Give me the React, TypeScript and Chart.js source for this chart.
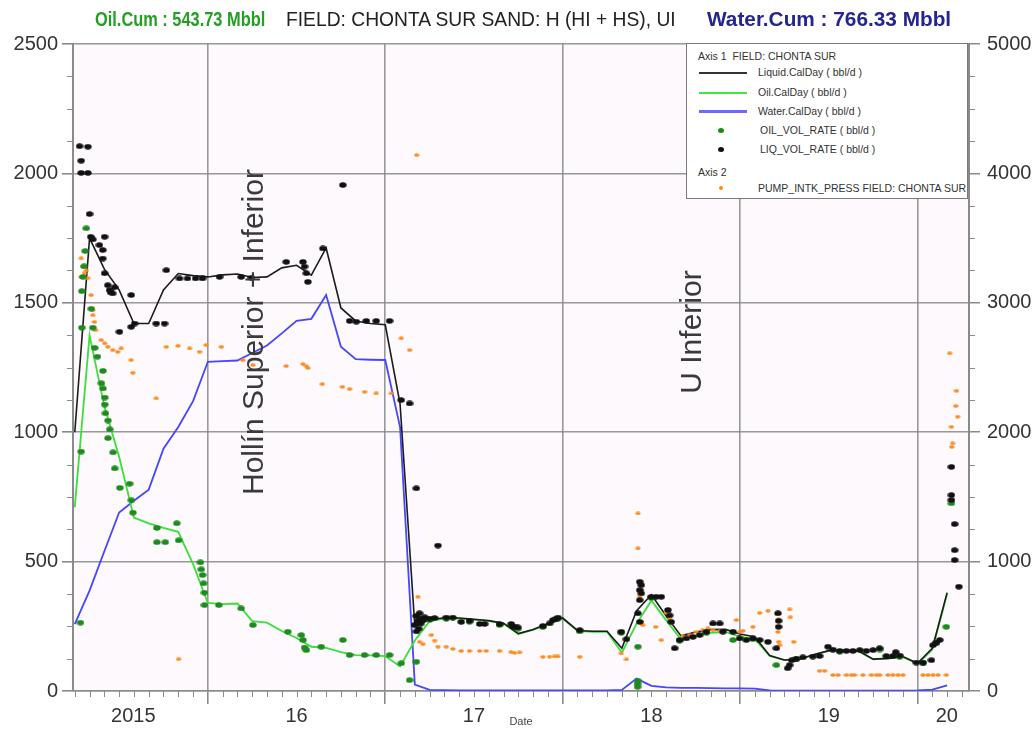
import React, { useEffect, useRef } from 'react';
import { Chart, registerables } from 'chart.js';

Chart.register(...registerables);

const SANS = '"Liberation Sans", Arial, Helvetica, sans-serif';

// ---------- Monthly calendar-day series (end of month) ----------
const calMonths = [
  '2015-03', '2015-04', '2015-05', '2015-06', '2015-07', '2015-08', '2015-09', '2015-10', '2015-11', '2015-12',
  '2016-01', '2016-02', '2016-03', '2016-04', '2016-05', '2016-06', '2016-07', '2016-08', '2016-09', '2016-10',
  '2016-11', '2016-12', '2017-01', '2017-02', '2017-03', '2017-04', '2017-05', '2017-06', '2017-07', '2017-08',
  '2017-09', '2017-10', '2017-11', '2017-12', '2018-01', '2018-02', '2018-03', '2018-04', '2018-05', '2018-06',
  '2018-07', '2018-08', '2018-09', '2018-10', '2018-11', '2018-12', '2019-01', '2019-02', '2019-03', '2019-04',
  '2019-05', '2019-06', '2019-07', '2019-08', '2019-09', '2019-10', '2019-11', '2019-12', '2020-01', '2020-02',
];

const liquidCalDay = [
  1000, 1750, 1630, 1550, 1420, 1420, 1550, 1613, 1605, 1600,
  1608, 1611, 1598, 1600, 1635, 1645, 1607, 1712, 1480, 1430,
  1420, 1415, 1110, 250, 275, 283, 282, 277, 272, 262,
  222, 238, 261, 282, 234, 231, 231, 165, 310, 372,
  290, 213, 228, 237, 238, 220, 209, 137, 120, 123,
  141, 156, 156, 155, 123, 126, 133, 107, 165, 380,
];

const oilCalDay = [
  710, 1375, 1100, 905, 670, 648, 630, 615, 490, 340,
  336, 338, 270, 264, 232, 205, 171, 167, 150, 139,
  138, 135, 95, 195, 270, 280, 280, 275, 270, 260,
  220, 236, 259, 280, 232, 229, 229, 148, 260, 350,
  273, 200, 215, 225, 228, 210, 200, 135, 119, 122,
  140, 155, 155, 154, 122, 125, 132, 105, 160, 375,
];

const waterCalDay = [
  258, 388, 540, 690, 735, 778, 936, 1020, 1120, 1272,
  1275, 1277, 1306, 1335, 1382, 1430, 1438, 1530, 1330, 1282,
  1280, 1279, 1020, 25, 4, 3, 2, 2, 2, 2,
  2, 2, 2, 2, 2, 2, 2, 4, 48, 20,
  14, 12, 12, 11, 10, 10, 9, 2, 1, 1,
  1, 1, 1, 1, 1, 1, 1, 2, 5, 22,
];

// ---------- Test readings: [decimal year, value] ----------
const liqVolRate: [number, number][] = [
  [2015.277, 2105], [2015.324, 2103], [2015.286, 2049], [2015.286, 2002], [2015.324, 2002], [2015.333, 1843],
  [2015.340, 1755], [2015.352, 1745], [2015.418, 1755], [2015.389, 1723], [2015.408, 1704], [2015.408, 1671],
  [2015.418, 1614], [2015.436, 1568], [2015.446, 1549], [2015.463, 1536], [2015.474, 1560], [2015.452, 1540],
  [2015.568, 1530], [2015.502, 1388], [2015.568, 1407], [2015.587, 1420], [2015.709, 1420], [2015.756, 1420],
  [2015.766, 1626], [2015.840, 1594], [2015.885, 1594], [2015.931, 1594], [2015.970, 1594], [2016.066, 1600],
  [2016.188, 1600], [2016.245, 1597], [2016.442, 1658], [2016.536, 1658], [2016.545, 1640], [2016.555, 1614],
  [2016.564, 1581], [2016.648, 1710], [2016.761, 1955], [2016.799, 1430], [2016.837, 1427], [2016.893, 1430],
  [2016.949, 1430], [2017.024, 1430], [2017.090, 1124], [2017.137, 1111], [2017.175, 783], [2017.297, 562],
  [2017.165, 255], [2017.175, 290], [2017.182, 270], [2017.188, 240], [2017.193, 300], [2017.199, 260],
  [2017.205, 280], [2017.212, 275], [2017.176, 230], [2017.222, 285], [2017.250, 280], [2017.278, 282],
  [2017.344, 284], [2017.381, 284], [2017.428, 267], [2017.475, 271], [2017.532, 259], [2017.560, 259],
  [2017.644, 259], [2017.710, 259], [2017.718, 250], [2017.729, 248], [2017.747, 246], [2017.888, 251],
  [2017.926, 261], [2017.945, 274], [2017.964, 280], [2017.973, 284], [2018.096, 235], [2018.330, 229],
  [2018.359, 200], [2018.434, 422], [2018.443, 409], [2018.434, 390], [2018.443, 377], [2018.434, 351],
  [2018.424, 300], [2018.434, 267], [2018.499, 364], [2018.527, 364], [2018.556, 364], [2018.593, 313],
  [2018.603, 292], [2018.612, 267], [2018.631, 165], [2018.659, 197], [2018.697, 203], [2018.734, 209],
  [2018.772, 216], [2018.810, 229], [2018.847, 261], [2018.885, 261], [2018.903, 229], [2018.960, 229],
  [2018.997, 203], [2019.035, 197], [2019.072, 203], [2019.110, 197], [2019.157, 190], [2019.213, 300],
  [2019.217, 271], [2019.217, 248], [2019.204, 165], [2019.268, 88], [2019.279, 100], [2019.291, 119],
  [2019.317, 125], [2019.354, 130], [2019.410, 133], [2019.448, 135], [2019.495, 171], [2019.523, 160],
  [2019.561, 155], [2019.599, 155], [2019.636, 155], [2019.674, 158], [2019.711, 155], [2019.749, 158],
  [2019.786, 165], [2019.824, 135], [2019.861, 135], [2019.899, 137], [2019.877, 150], [2019.993, 110],
  [2020.031, 110], [2020.078, 119], [2020.087, 177], [2020.106, 187], [2020.125, 197], [2020.191, 866],
  [2020.191, 757], [2020.191, 738], [2020.209, 645], [2020.209, 544], [2020.209, 506], [2020.233, 403],
];

const oilVolRate: [number, number][] = [
  [2015.315, 1788], [2015.309, 1700], [2015.302, 1641], [2015.296, 1600], [2015.290, 1545], [2015.290, 1404],
  [2015.343, 1477], [2015.352, 1404], [2015.362, 1326], [2015.378, 1292], [2015.409, 1237], [2015.400, 1189],
  [2015.409, 1169], [2015.419, 1134], [2015.419, 1107], [2015.423, 1073], [2015.437, 1045], [2015.447, 1011],
  [2015.437, 977], [2015.466, 922], [2015.475, 860], [2015.504, 785], [2015.559, 801], [2015.569, 737],
  [2015.578, 689], [2015.286, 925], [2015.282, 264], [2015.713, 630], [2015.825, 648], [2015.713, 575],
  [2015.760, 575], [2015.835, 582], [2015.958, 497], [2015.963, 470], [2015.970, 448], [2015.976, 416],
  [2015.981, 380], [2015.981, 332], [2016.062, 332], [2016.188, 319], [2016.254, 255], [2016.451, 229],
  [2016.527, 216], [2016.536, 197], [2016.545, 168], [2016.555, 158], [2016.639, 171], [2016.761, 197],
  [2016.799, 139], [2016.883, 139], [2016.949, 139], [2017.024, 139], [2017.090, 107], [2017.175, 113],
  [2017.137, 42], [2017.193, 280], [2017.250, 275], [2017.344, 280], [2017.475, 268], [2017.644, 255],
  [2017.747, 240], [2017.888, 247], [2017.973, 280], [2018.096, 230], [2018.330, 225], [2018.424, 171],
  [2018.422, 40], [2018.422, 28], [2018.422, 16], [2018.499, 360], [2018.659, 195], [2018.810, 225],
  [2018.960, 197], [2019.072, 200], [2019.204, 100], [2019.317, 122], [2019.561, 152], [2019.786, 160],
  [2019.899, 133], [2020.031, 107], [2020.106, 185], [2020.162, 248], [2020.191, 725],
];

// Pump intake pressure (Axis 2)
const pumpIntkPress: [number, number][] = [
  [2015.286, 3343], [2015.296, 3278], [2015.305, 3227], [2015.286, 3200], [2015.315, 3250], [2015.322, 3190],
  [2015.342, 3059], [2015.352, 2943], [2015.352, 2904], [2015.361, 2852], [2015.367, 2788], [2015.399, 2712],
  [2015.418, 2686], [2015.436, 2660], [2015.464, 2634], [2015.492, 2621], [2015.511, 2647], [2015.568, 2557],
  [2015.577, 2459], [2015.709, 2261], [2015.766, 2660], [2015.832, 2668], [2015.897, 2647], [2015.953, 2621],
  [2015.991, 2673], [2016.076, 2660], [2015.835, 245], [2016.197, 2557], [2016.254, 2518], [2016.442, 2511],
  [2016.536, 2526], [2016.555, 2510], [2016.564, 2496], [2016.645, 2372], [2016.758, 2351], [2016.799, 2333],
  [2016.883, 2312], [2016.949, 2300], [2017.034, 2300], [2017.090, 2725], [2017.137, 2634], [2017.177, 4141],
  [2017.184, 728], [2017.184, 600], [2017.193, 380], [2017.212, 362], [2017.260, 432], [2017.278, 390],
  [2017.297, 342], [2017.344, 342], [2017.381, 325], [2017.428, 310], [2017.475, 310], [2017.532, 310],
  [2017.569, 310], [2017.644, 310], [2017.710, 300], [2017.729, 295], [2017.757, 298], [2017.888, 264],
  [2017.926, 266], [2017.954, 267], [2017.973, 267], [2018.096, 264], [2018.330, 290], [2018.359, 244],
  [2018.424, 1372], [2018.424, 1102], [2018.434, 834], [2018.443, 780], [2018.434, 728], [2018.443, 535],
  [2018.451, 509], [2018.524, 496], [2018.556, 393], [2018.584, 602], [2018.603, 560], [2018.612, 525],
  [2018.678, 424], [2018.715, 432], [2018.753, 457], [2018.790, 470], [2018.818, 484], [2018.847, 470],
  [2018.885, 460], [2018.979, 548], [2018.997, 457], [2019.016, 465], [2019.072, 496], [2019.110, 604],
  [2019.157, 620], [2019.217, 600], [2019.217, 554], [2019.213, 457], [2019.217, 380], [2019.223, 354],
  [2019.279, 630], [2019.283, 569], [2019.302, 380], [2019.448, 156], [2019.476, 156], [2019.523, 123],
  [2019.552, 123], [2019.599, 123], [2019.627, 123], [2019.645, 123], [2019.692, 123], [2019.740, 123],
  [2019.768, 123], [2019.786, 123], [2019.833, 123], [2019.861, 123], [2019.890, 123], [2019.918, 123],
  [2020.031, 123], [2020.059, 123], [2020.087, 123], [2020.115, 123], [2020.162, 123], [2020.181, 2609],
  [2020.219, 2320], [2020.215, 2202], [2020.226, 2120], [2020.191, 2042], [2020.198, 1913], [2020.193, 1887],
];

// ---------- Axes ----------
const xMin = 2015.24;
const xMax = 2020.29;
const xGridYears = [2016, 2017, 2018, 2019, 2020];
const xLabelPositions = [2015.58, 2016.5, 2017.5, 2018.5, 2019.5, 2020.165];
const xLabels = ['2015', '16', '17', '18', '19', '20'];
const yLeftMax = 2500;
const yLeftStep = 500;
const yRightMax = 5000;
const yRightStep = 1000;

const annotations = [
  { text: 'Hollín Superior + Inferior', x: 2016.263, y: 1387 },
  { text: 'U Inferior', x: 2018.732, y: 1387 },
];

const GRID = 'rgba(135,135,135,0.85)';
const AXIS = '#8a8a8a';

function monthToYear(m: string): number {
  const [y, mo] = m.split('-').map(Number);
  return y + mo / 12;
}

function dotImage(color: string, w: number, h: number): HTMLCanvasElement {
  const c = document.createElement('canvas');
  c.width = w;
  c.height = h;
  const g = c.getContext('2d')!;
  g.fillStyle = color;
  g.beginPath();
  g.ellipse(w / 2, h / 2, w / 2 - 0.3, h / 2 - 0.3, 0, 0, Math.PI * 2);
  g.fill();
  return c;
}

const plotBg = {
  id: 'plotBg',
  beforeDraw(chart: any) {
    const { ctx, chartArea: a } = chart;
    ctx.save();
    ctx.fillStyle = '#fdf9fd';
    ctx.fillRect(a.left, a.top, a.right - a.left, a.bottom - a.top);
    ctx.restore();
  },
};

const minorTicks = {
  id: 'minorTicks',
  afterDraw(chart: any) {
    const { ctx, chartArea: a, scales } = chart;
    ctx.save();
    ctx.strokeStyle = AXIS;
    ctx.lineWidth = 1;
    const seg = (x1: number, y1: number, x2: number, y2: number) => {
      ctx.beginPath();
      ctx.moveTo(x1, y1);
      ctx.lineTo(x2, y2);
      ctx.stroke();
    };
    for (let v = 0; v <= yLeftMax; v += yLeftStep / 4) {
      if (v % yLeftStep === 0) continue;
      const p = Math.round(scales.y.getPixelForValue(v)) + 0.5;
      seg(a.left - 6, p, a.left, p);
    }
    for (let v = 0; v <= yRightMax; v += yRightStep / 4) {
      if (v % yRightStep === 0) continue;
      const p = Math.round(scales.y1.getPixelForValue(v)) + 0.5;
      seg(a.right, p, a.right + 6, p);
    }
    for (let yr = 2015; yr <= 2020; yr++) {
      for (let m = 1; m < 12; m++) {
        const v = yr + m / 12;
        if (v < xMin || v > xMax) continue;
        const p = Math.round(scales.x.getPixelForValue(v)) + 0.5;
        seg(p, a.bottom, p, a.bottom + 6);
      }
    }
    ctx.restore();
  },
};

const textAnnotations = {
  id: 'textAnnotations',
  afterDatasetsDraw(chart: any) {
    const { ctx, scales } = chart;
    ctx.save();
    ctx.fillStyle = '#3a3a3a';
    ctx.font = `30px ${SANS}`;
    ctx.textAlign = 'center';
    ctx.textBaseline = 'middle';
    for (const an of annotations) {
      const px = scales.x.getPixelForValue(an.x);
      const py = scales.y.getPixelForValue(an.y);
      ctx.save();
      ctx.translate(px, py);
      ctx.rotate(-Math.PI / 2);
      ctx.fillText(an.text, 0, 0);
      ctx.restore();
    }
    ctx.restore();
  },
};

const isGridYear = (v: number) => Math.abs(v - Math.round(v)) < 1e-6;

export default function App() {
  const ref = useRef<HTMLCanvasElement | null>(null);

  useEffect(() => {
    if (!ref.current) return;
    const calX = calMonths.map(monthToYear);
    const line = (vals: number[]) => vals.map((y, i) => ({ x: calX[i], y }));
    const pts = (arr: [number, number][]) => arr.map(([x, y]) => ({ x, y }));

    const chart = new Chart(ref.current, {
      type: 'scatter',
      data: {
        datasets: [
          {
            label: 'LIQ_VOL_RATE ( bbl/d )',
            data: pts(liqVolRate),
            yAxisID: 'y',
            pointStyle: dotImage('#111111', 8, 6) as any,
            pointRadius: 3,
            order: 1,
          },
          {
            label: 'OIL_VOL_RATE ( bbl/d )',
            data: pts(oilVolRate),
            yAxisID: 'y',
            pointStyle: dotImage('#1d8a1d', 8, 6) as any,
            pointRadius: 3,
            order: 2,
          },
          {
            label: 'PUMP_INTK_PRESS FIELD: CHONTA SUR',
            data: pts(pumpIntkPress),
            yAxisID: 'y1',
            pointStyle: dotImage('#ff8a1e', 6, 4) as any,
            pointRadius: 2,
            order: 3,
          },
          {
            label: 'Liquid.CalDay ( bbl/d )',
            data: line(liquidCalDay),
            yAxisID: 'y',
            showLine: true,
            borderColor: '#1c1c1c',
            borderWidth: 1.6,
            pointRadius: 0,
            order: 4,
          },
          {
            label: 'Oil.CalDay ( bbl/d )',
            data: line(oilCalDay),
            yAxisID: 'y',
            showLine: true,
            borderColor: '#38e038',
            borderWidth: 1.8,
            pointRadius: 0,
            order: 5,
          },
          {
            label: 'Water.CalDay ( bbl/d )',
            data: line(waterCalDay),
            yAxisID: 'y',
            showLine: true,
            borderColor: '#4646ff',
            borderWidth: 1.8,
            pointRadius: 0,
            order: 6,
          },
        ] as any,
      },
      options: {
        animation: false,
        responsive: false,
        maintainAspectRatio: false,
        events: [],
        layout: { padding: { top: 44, left: 0, right: 0, bottom: 0 } },
        plugins: {
          legend: { display: false },
          title: { display: false },
          tooltip: { enabled: false },
        },
        scales: {
          x: {
            type: 'linear',
            min: xMin,
            max: xMax,
            afterBuildTicks: (s: any) => {
              s.ticks = [...xGridYears, ...xLabelPositions]
                .sort((a, b) => a - b)
                .map((value) => ({ value }));
            },
            afterFit: (s: any) => {
              s.height = 42;
            },
            ticks: {
              autoSkip: false,
              maxRotation: 0,
              padding: 0,
              color: '#333',
              font: { family: SANS, size: 20 },
              callback: (v: any) => {
                const i = xLabelPositions.findIndex((p) => Math.abs(p - Number(v)) < 1e-6);
                return i >= 0 ? xLabels[i] : '';
              },
            },
            grid: {
              color: (c: any) => (c.tick && isGridYear(c.tick.value) ? GRID : 'rgba(0,0,0,0)'),
              tickColor: (c: any) => (c.tick && isGridYear(c.tick.value) ? AXIS : 'rgba(0,0,0,0)'),
              lineWidth: 1.6,
              tickLength: 13,
            },
            border: { display: true, color: AXIS, width: 1.5 },
            title: {
              display: true,
              text: 'Date',
              color: '#444',
              font: { family: SANS, size: 11 },
              padding: { top: 0, bottom: 4 },
            },
          },
          y: {
            type: 'linear',
            position: 'left',
            min: 0,
            max: yLeftMax,
            afterFit: (s: any) => {
              s.width = 73;
            },
            ticks: {
              stepSize: yLeftStep,
              padding: 4,
              color: '#333',
              font: { family: SANS, size: 20 },
              callback: (v: any) => String(v),
            },
            grid: { color: GRID, lineWidth: 1.6, tickLength: 11, tickColor: AXIS },
            border: { display: true, color: AXIS, width: 2 },
          },
          y1: {
            type: 'linear',
            position: 'right',
            min: 0,
            max: yRightMax,
            afterFit: (s: any) => {
              s.width = 67;
            },
            ticks: {
              stepSize: yRightStep,
              padding: 7,
              color: '#333',
              font: { family: SANS, size: 20 },
              callback: (v: any) => String(v),
            },
            grid: { drawOnChartArea: false, tickLength: 11, tickColor: AXIS, lineWidth: 1.5 },
            border: { display: true, color: AXIS, width: 2 },
          },
        },
      } as any,
      plugins: [plotBg, minorTicks, textAnnotations],
    });
    return () => chart.destroy();
  }, []);

  const legendText: React.CSSProperties = {
    position: 'absolute',
    whiteSpace: 'nowrap',
    fontFamily: SANS,
    fontSize: 10.5,
    lineHeight: '12px',
    color: '#333',
  };
  const swatch = (top: number, color: string, h: number): React.CSSProperties => ({
    position: 'absolute',
    left: 12,
    top: top - h / 2,
    width: 48,
    height: h,
    background: color,
  });
  const dot = (top: number, color: string, w: number, h: number): React.CSSProperties => ({
    position: 'absolute',
    left: 34 - w / 2,
    top: top - h / 2,
    width: w,
    height: h,
    borderRadius: '50%',
    background: color,
  });
  const titleBase: React.CSSProperties = {
    position: 'absolute',
    top: 7,
    fontFamily: SANS,
    fontSize: 21,
    lineHeight: '24px',
    whiteSpace: 'nowrap',
    transformOrigin: 'left center',
  };

  return (
    <div style={{ position: 'absolute', left: 0, top: 0, width: 1036, height: 733, background: '#ffffff', overflow: 'hidden' }}>
      <canvas ref={ref} width={1036} height={733} style={{ position: 'absolute', left: 0, top: 0 }} />
      <div style={{ ...titleBase, left: 95, fontWeight: 'bold', color: '#23a023', transform: 'scaleX(0.78)' }}>
        Oil.Cum : 543.73 Mbbl
      </div>
      <div style={{ ...titleBase, left: 286, color: '#222', transform: 'scaleX(0.917)' }}>
        FIELD: CHONTA SUR SAND: H (HI + HS), UI
      </div>
      <div style={{ ...titleBase, left: 707, fontWeight: 'bold', color: '#25258f', transform: 'scaleX(0.99)' }}>
        Water.Cum : 766.33 Mbbl
      </div>

      <div style={{ position: 'absolute', left: 686, top: 43, width: 282, height: 156, background: '#ffffff', border: '1px solid #7a7a7a', boxSizing: 'border-box' }}>
        <div style={{ ...legendText, left: 11, top: 6 }}>Axis 1&nbsp; FIELD: CHONTA SUR</div>
        <div style={swatch(28.5, '#333333', 2)} />
        <div style={{ ...legendText, left: 71, top: 22 }}>Liquid.CalDay ( bbl/d )</div>
        <div style={swatch(48.5, '#3ee83e', 2)} />
        <div style={{ ...legendText, left: 71, top: 42 }}>Oil.CalDay ( bbl/d )</div>
        <div style={swatch(67.5, '#6a6aff', 3)} />
        <div style={{ ...legendText, left: 71, top: 61 }}>Water.CalDay ( bbl/d )</div>
        <div style={dot(86, '#1d8a1d', 6, 5)} />
        <div style={{ ...legendText, left: 73, top: 80 }}>OIL_VOL_RATE ( bbl/d )</div>
        <div style={dot(105, '#111111', 6, 5)} />
        <div style={{ ...legendText, left: 73, top: 99 }}>LIQ_VOL_RATE ( bbl/d )</div>
        <div style={{ ...legendText, left: 11, top: 122 }}>Axis 2</div>
        <div style={dot(144, '#ff8a1e', 4, 4)} />
        <div style={{ ...legendText, left: 71, top: 138 }}>PUMP_INTK_PRESS FIELD: CHONTA SUR</div>
      </div>
    </div>
  );
}
